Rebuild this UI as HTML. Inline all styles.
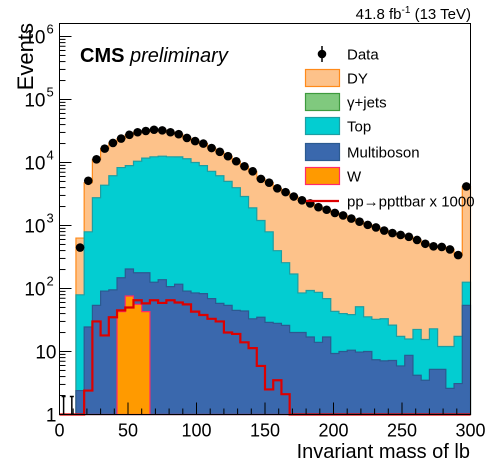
<!DOCTYPE html>
<html><head><meta charset="utf-8"><style>
html,body{margin:0;padding:0;background:#fff;overflow:hidden;}
svg{display:block;font-family:"Liberation Sans",Arial,sans-serif;}
</style></head><body>
<svg id="c" width="496" height="472" viewBox="0 0 496 472"></svg>
<script>
const binEdges0 = 0, binWidth = 6;
const dataVals = [0,0,447,5130,11220,16600,20420,23990,27540,30200,31620,33110,32360,30200,28180,24550,21880,19950,16980,14790,12590,10470,8710,7244,5495,4786,3890,3388,2884,2512,2239,1950,1778,1585,1445,1288,1148,1023,933,832,759,708,661,589,513,468,457,417,339,4169];
const wVals = [0,0,0,0,0,0,0,43,76,56,43,0,0,0,0,0,0,0,0,0,0,0,0,0,0,0,0,0,0,0,0,0,0,0,0,0,0,0,0,0,0,0,0,0,0,0,0,0,0,0];
const multiVals = [0,0,2.4,24.5,54,91,95,105,128,122,135,126,138,107,117,91,85,83,69,58,54,45,44,33,35,29,28,26,20,20,17,14,17,9.3,10,10.5,9.8,10,7.4,7.1,7.2,5.9,8.7,4.2,3.5,5.2,5.2,2.6,3.1,54];
const topVals = [0,0,77,770,2700,4270,6070,8170,8710,10290,11570,12180,12450,12200,12180,11390,9915,8830,7175,6110,4960,3936,2840,1872,1167,765,370,231,150,65,76,73,52,34,30,28,41.5,25.5,25,26,19,11.5,7.1,18.2,12,17.7,6.8,9.4,14.3,72];
const dyVals = [0,0,552,3990,8470,12240,14250,15670,18630,19730,19870,20810,19770,17900,15880,13070,11880,11040,9740,8620,7580,6490,5830,5340,4290,3990,3490,3130,2714,2427,2146,1863,1709,1541,1405,1249,1097,988,901,799,733,691,645,567,497,445,445,405,322,4043];
const sigVals = [0,0,0,2.4,30,18,35,45,50,65,58,65,59,65,60,56,43,38,33,30,20,19,14,11.3,5.9,2.5,3.5,2.1,0,0,0,0,0,0,0,0,0,0,0,0,0,0,0,0,0,0,0,0,0,0];
const xTicks = [0,50,100,150,200,250,300];
const yDecades = [0,1,2,3,4,5,6];

const NS="http://www.w3.org/2000/svg";
const svg=document.getElementById('c');
const L=59.5,R=470.5,T=23.5,B=414.5;
const xMin=0,xMax=300,decPx=63;
function X(v){return L+(v-xMin)*(R-L)/(xMax-xMin);}
function Y(v){if(v<=1)return B;return Math.max(T,B-decPx*Math.log10(v));}
function mk(tag,attrs,parent){const e=document.createElementNS(NS,tag);for(const k in attrs)e.setAttribute(k,attrs[k]);(parent||svg).appendChild(e);return e;}

function stepPath(vals){
  let d='M'+X(0)+','+B;
  for(let i=0;i<vals.length;i++){const x0=X(binEdges0+i*binWidth),x1=X(binEdges0+(i+1)*binWidth);const y=Y(vals[i]);d+=' L'+x0+','+y+' L'+x1+','+y;}
  d+=' L'+X(xMax)+','+B+' Z';return d;
}
const cumW=wVals.slice();
const cumM=multiVals.map((v,i)=>v+cumW[i]);
const cumT=topVals.map((v,i)=>v+cumM[i]);
const cumD=dyVals.map((v,i)=>v+cumT[i]);

const layers=[
 [cumD,'#fdc28a','#ff8a1a','hist-dy'],
 [cumT,'#03cdd1','#1d9ea2','hist-top'],
 [cumM,'#3a68ad','#2b5a90','hist-multiboson'],
 [cumW,'#ff9a00','#ff2a6a','hist-w']
];
for(const [vals,fill,stroke,name] of layers){
  const p=mk('path',{d:stepPath(vals),fill:fill,stroke:stroke,'stroke-width':1.2});
  
  
}
{
  let d='M'+X(0)+','+B;
  for(let i=0;i<sigVals.length;i++){const x0=X(i*binWidth),x1=X((i+1)*binWidth),y=Y(sigVals[i]);d+=' L'+x0+','+y+' L'+x1+','+y;}
  const p=mk('path',{d:d,fill:'none',stroke:'#dd0000','stroke-width':2.2});
  
  
}
const gD=mk('g',{});


for(let i=0;i<dataVals.length;i++){
  const cx=X((i+0.5)*binWidth),v=dataVals[i];
  if(v<=0){
    const l=mk('line',{x1:cx,x2:cx,y1:B-18,y2:B,stroke:'#000','stroke-width':1.5},gD);
    mk('line',{x1:cx-2,x2:cx+2,y1:B-18,y2:B-18,stroke:'#000','stroke-width':1.5},gD);
    
    
    continue;
  }
  const e=Math.sqrt(v);
  mk('line',{x1:cx,x2:cx,y1:Y(v+e),y2:Y(v-e),stroke:'#000','stroke-width':1.2},gD);
  mk('line',{x1:X(i*binWidth),x2:X((i+1)*binWidth),y1:Y(v),y2:Y(v),stroke:'#000','stroke-width':1.2},gD);
  const c=mk('circle',{cx:cx,cy:Y(v),r:4.3,fill:'#000'},gD);
  
  
}
const fr=mk('rect',{x:L,y:T,width:R-L,height:B-T,fill:'none',stroke:'#000','stroke-width':1});


for(let v=0;v<=300;v+=10){
  const len=(v%50===0)?12:6;
  mk('line',{x1:X(v),x2:X(v),y1:B,y2:B-len,stroke:'#000','stroke-width':1});
}
for(const v of xTicks){
  const t=mk('text',{x:X(v),y:B+22,'font-size':18,'text-anchor':'middle',fill:'#000'});
  t.textContent=v;
  
  
}
for(let d=0;d<=6;d++){
  for(let k=1;k<=9;k++){
    const y=B-decPx*(d+Math.log10(k));
    if(y<T)continue;
    mk('line',{x1:L,x2:L+(k===1?12:6),y1:y,y2:y,stroke:'#000','stroke-width':1});
  }
}
for(const d of yDecades){
  const y=B-decPx*d;
  const t=mk('text',{x:L-3,y:y+7,'font-size':19,'text-anchor':'end',fill:'#000'});
  
  
  if(d===0){t.textContent='1';}
  else if(d===1){t.textContent='10';}
  else{
    t.setAttribute('x',L-14);
    t.textContent='10';
    const s=mk('text',{x:L-13,y:y-3,'font-size':13,fill:'#000'});
    s.textContent=d;
  }
}
let t=mk('text',{x:33,y:23,'font-size':22,transform:'rotate(-90 33 23)','text-anchor':'end'});
t.textContent='Events';


t=mk('text',{x:470,y:458,'font-size':20,'text-anchor':'end'});
t.textContent='Invariant mass of lb';


t=mk('text',{x:471,y:19,'font-size':15,'text-anchor':'end'});
t.innerHTML='41.8 fb<tspan dy="-6" font-size="10">-1</tspan><tspan dy="6"> (13 TeV)</tspan>';


t=mk('text',{x:80,y:62,'font-size':20});
t.innerHTML='<tspan font-weight="bold">CMS</tspan> <tspan font-style="italic">preliminary</tspan>';


const entries=[['Data','data'],['DY','#fdc28a','#ff8a1a'],['γ+jets','#80c97e','#3e9a3e'],['Top','#03cdd1','#1d9ea2'],['Multiboson','#3a68ad','#2b5a90'],['W','#ff9a00','#ff2a6a'],['pp→ppttbar x 1000','line']];
const ys=[54,78,102,126,152,176,201];
entries.forEach((en,i)=>{
  const y=ys[i];
  const g=mk('g',{});
  
  
  if(en[1]==='data'){
    mk('circle',{cx:322,cy:y,r:4.3,fill:'#000'},g);
    mk('line',{x1:322,x2:322,y1:y-8,y2:y+8,stroke:'#000','stroke-width':1.5},g);
  } else if(en[1]==='line'){
    mk('line',{x1:306,x2:339,y1:y,y2:y,stroke:'#dd0000','stroke-width':2.2},g);
  } else {
    mk('rect',{x:305.5,y:y-8.5,width:34,height:17,fill:en[1],stroke:en[2],'stroke-width':1.2},g);
  }
  const tx=mk('text',{x:347,y:y+5.5,'font-size':15},g);
  tx.textContent=en[0];
});
</script>
</body></html>
